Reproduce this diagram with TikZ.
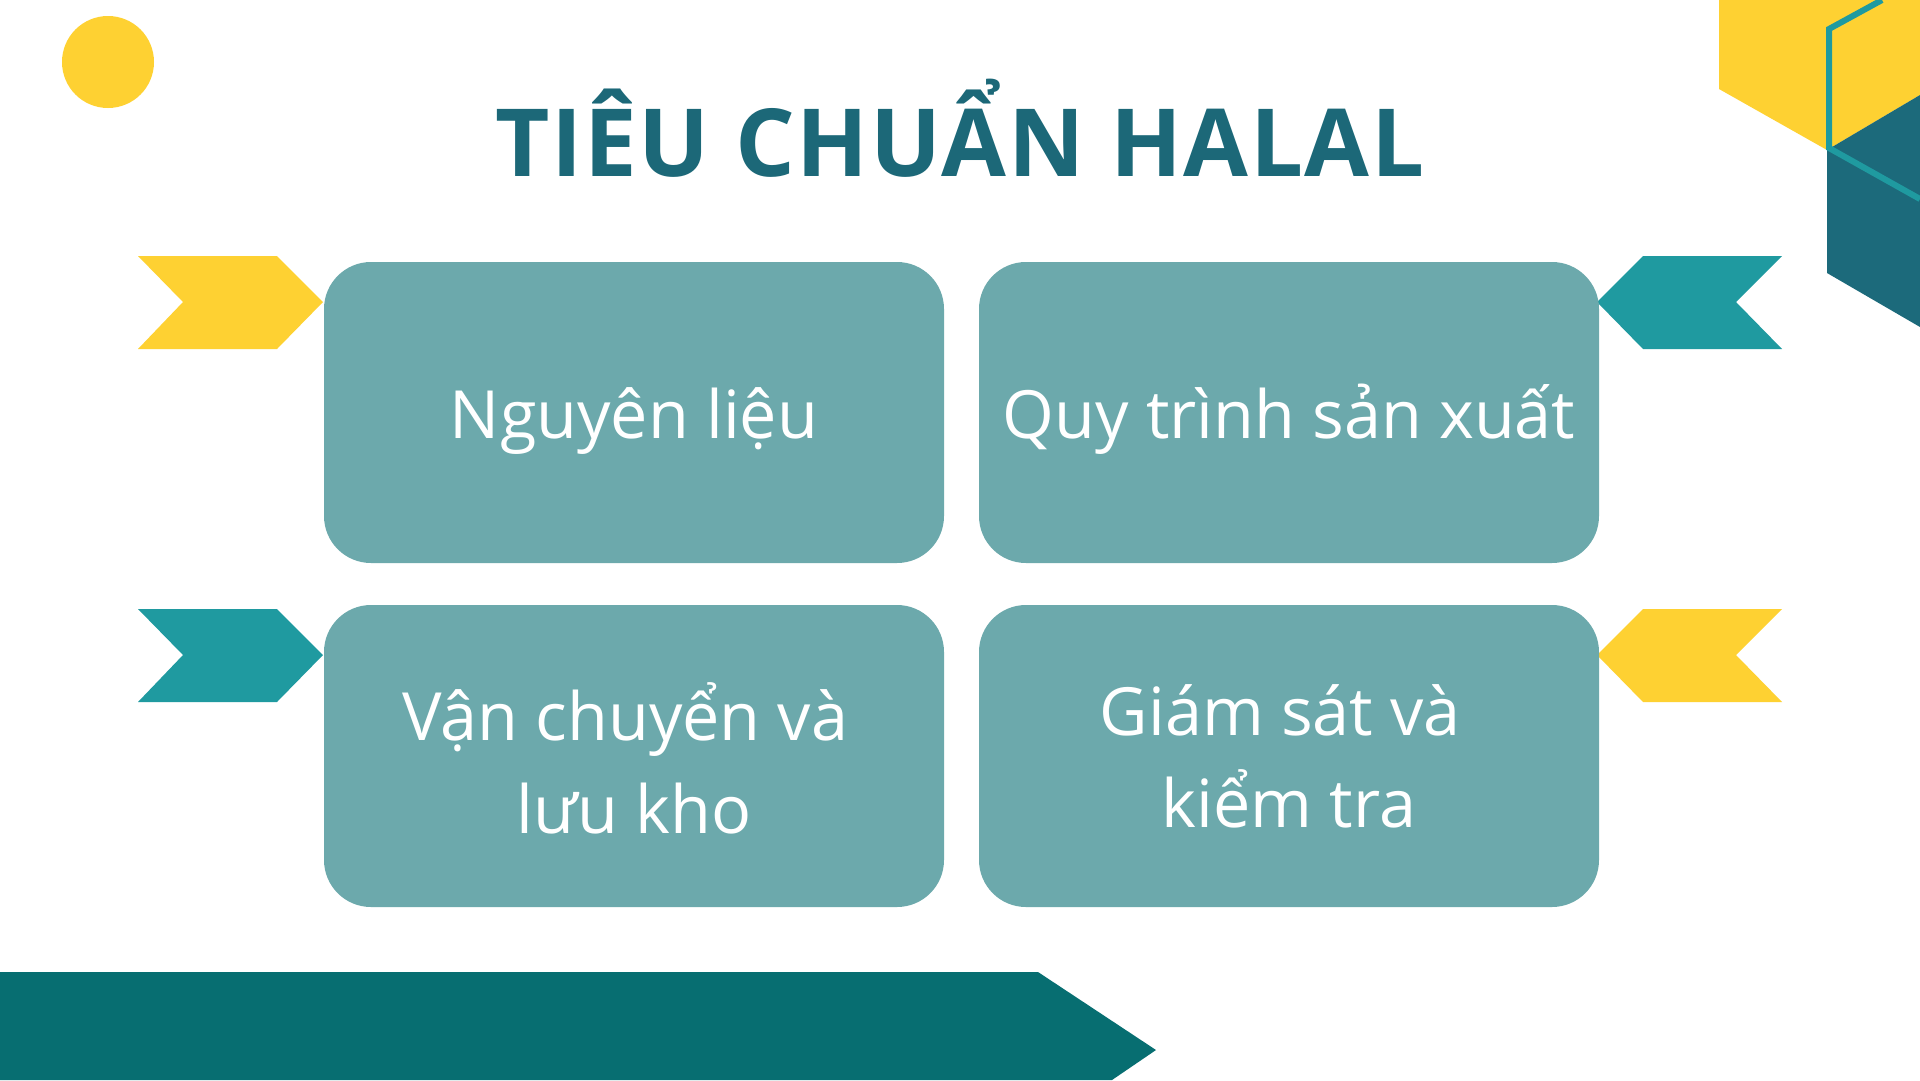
\documentclass[tikz,border=0pt]{standalone}
\usepackage{fontspec}
\setmainfont{Open Sans}
\newfontfamily\titlefont[LetterSpace=1.6]{Open Sans}
\definecolor{cyellow}{HTML}{FED132}
\definecolor{cteal}{HTML}{1F9AA0}
\definecolor{cbox}{HTML}{6CA9AC}
\definecolor{ctitle}{HTML}{1C6878}
\definecolor{cdark}{HTML}{1C6A7B}
\definecolor{cband}{HTML}{076E71}
\tikzset{
  card/.style={fill=cbox, draw=none, rounded corners=47pt},
  lbl/.style={text=white, inner sep=0pt, anchor=base, font=\fontsize{66.5}{93}\selectfont},
  ttl/.style={text=ctitle, inner sep=0pt, anchor=base, font=\titlefont\bfseries\fontsize{94}{100}\selectfont},
}
\begin{document}
\begin{tikzpicture}[x=1pt, y=-1pt]
\useasboundingbox (0,0) rectangle (1920,1080);
\fill[white] (0,0) rectangle (1920,1080);
% circle
\fill[cyellow] (108,62) circle (46);
% top-right decoration
\fill[cyellow] (1719,0) -- (1920,0) -- (1920,95) -- (1827,150) -- (1719,89) -- cycle;
\fill[cdark] (1827,150) -- (1920,95) -- (1920,327) -- (1827,273) -- cycle;
\coordinate (l1) at (1882,0);
\coordinate (l2) at (1829,29);
\coordinate (l3) at (1829,148);
\coordinate (l4) at (1920,199);
\draw[cteal, line width=6pt, line join=miter] (l1) -- (l2) -- (l3) -- (l4);
% bottom band
\fill[cband] (0,972) -- (1038,972) -- (1156,1050) -- (1112,1080) -- (0,1080) -- cycle;
% chevrons
\fill[cyellow] (138,256) -- (277,256) -- (323,302) -- (277,349) -- (138,349) -- (183,302) -- cycle;
\fill[cteal] (138,609) -- (277,609) -- (323,655) -- (277,702) -- (138,702) -- (183,655) -- cycle;
\fill[cteal] (1597,302) -- (1643,256) -- (1782,256) -- (1736,302) -- (1782,349) -- (1643,349) -- cycle;
\fill[cyellow] (1597,655) -- (1643,609) -- (1782,609) -- (1736,655) -- (1782,702) -- (1643,702) -- cycle;
% cards
\path[card] (324,262) rectangle (944,563);
\path[card] (979,262) rectangle (1599,563);
\path[card] (324,605) rectangle (944,907);
\path[card] (979,605) rectangle (1599,907);
% title
\node[ttl] (title) at (960,176) {TIÊU CHUẨN HALAL};
% labels
\node[lbl] (t1) at (634,438) {Nguyên liệu};
\node[lbl] (t2) at (1289,438) {Quy trình sản xuất};
\node[lbl] (t3a) at (634,740) {Vận chuyển và\hphantom{\ }};
\node[lbl] (t3b) at (634,833) {lưu kho};
\node[lbl] (t4a) at (1289,735) {Giám sát và\hphantom{\ }};
\node[lbl] (t4b) at (1289,827) {kiểm tra};
\end{tikzpicture}
\end{document}
